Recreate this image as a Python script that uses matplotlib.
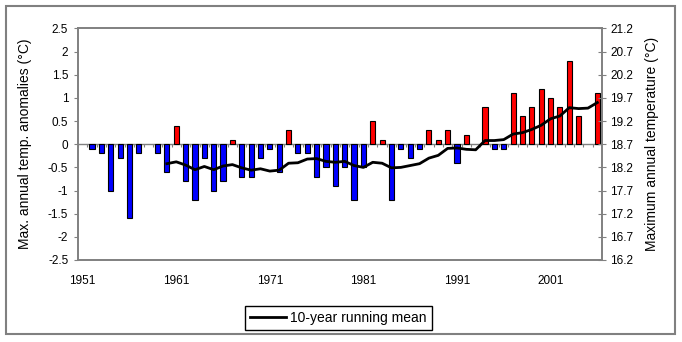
import matplotlib
matplotlib.use('Agg')
import matplotlib.pyplot as plt
import numpy as np
from matplotlib.patches import Rectangle

plt.rcParams['font.family'] = ['Liberation Sans', 'DejaVu Sans']

# annual max temperature anomalies (deg C), 1951-2006
years = list(range(1951, 2007))
anomaly = [0.0, -0.1, -0.2, -1.0, -0.3, -1.6, -0.2, 0.0, -0.2, -0.6,
           0.4, -0.8, -1.2, -0.3, -1.0, -0.8, 0.1, -0.7, -0.7, -0.3,
           -0.1, -0.6, 0.3, -0.2, -0.2, -0.7, -0.5, -0.9, -0.5, -1.2,
           -0.5, 0.5, 0.1, -1.2, -0.1, -0.3, -0.1, 0.3, 0.1, 0.3,
           -0.4, 0.2, 0.0, 0.8, -0.1, -0.1, 1.1, 0.6, 0.8, 1.2,
           1.0, 0.8, 1.8, 0.6, 0.0, 1.1]

# 10-year running mean of the maximum temperature (deg C), 1960-2006
mean_years = list(range(1960, 2007))
running_mean = [18.28, 18.32, 18.25, 18.15, 18.22, 18.15, 18.23, 18.26, 18.19, 18.14,
                18.17, 18.12, 18.14, 18.29, 18.30, 18.38, 18.39, 18.33, 18.31, 18.33,
                18.24, 18.20, 18.31, 18.29, 18.19, 18.20, 18.24, 18.28, 18.40, 18.46,
                18.61, 18.62, 18.59, 18.58, 18.78, 18.78, 18.80, 18.92, 18.95, 19.02,
                19.11, 19.25, 19.31, 19.49, 19.47, 19.48, 19.60]

year_labels = [1951, 1961, 1971, 1981, 1991, 2001]
left_ticks = [-2.5, -2, -1.5, -1, -0.5, 0, 0.5, 1, 1.5, 2, 2.5]
right_ticks = [16.2, 16.7, 17.2, 17.7, 18.2, 18.7, 19.2, 19.7, 20.2, 20.7, 21.2]

grey = '#808080'

fig = plt.figure(figsize=(6.82, 3.42), dpi=100)
ax = fig.add_axes([0.1144, 0.2398, 0.7683, 0.6769])

x = np.arange(len(years))
vals = np.array(anomaly)
keep = vals != 0
colors = np.where(vals > 0, '#FF0000', '#0000FF')
ax.bar(x[keep], vals[keep], width=0.55, color=colors[keep],
       edgecolor='black', linewidth=0.8, zorder=3)

# category axis crossing at zero
ax.axhline(0, color=grey, lw=1, zorder=2)
ax.vlines(np.arange(len(years) + 1) - 0.5, -0.07, 0, color=grey, lw=0.8, zorder=2)

ax.set_xlim(-0.5, len(years) - 0.5)
ax.set_ylim(-2.5, 2.5)
ax.set_xticks([years.index(y) for y in year_labels], [str(y) for y in year_labels])
ax.set_yticks(left_ticks, [f'{v:g}' for v in left_ticks])
ax.tick_params(axis='x', length=0, pad=11, labelsize=8.5)
ax.tick_params(axis='y', direction='out', length=3, color=grey, pad=4, labelsize=8.5)
ax.set_ylabel('Max. annual temp. anomalies (°C)', fontsize=10)
ax.yaxis.set_label_coords(-0.088, 0.5)

ax2 = ax.twinx()
mx = [years.index(y) for y in mean_years]
ax2.plot(mx, running_mean, color='black', lw=2, label='10-year running mean', zorder=4)
ax2.set_ylim(16.2, 21.2)
ax2.set_yticks(right_ticks, [f'{v:.1f}' for v in right_ticks])
ax2.tick_params(axis='y', direction='inout', length=6, color=grey, pad=3, labelsize=8.5)
ax2.set_ylabel('Maximum annual temperature (°C)', fontsize=10)
ax2.yaxis.set_label_coords(1.082, 0.5)

for a in (ax, ax2):
    for s in a.spines.values():
        s.set_color(grey)
        s.set_linewidth(1.2)

fig.legend(loc='center', bbox_to_anchor=(338.5 / 682, 1 - 318 / 342),
           fontsize=10, frameon=True, fancybox=False, edgecolor='black',
           framealpha=1, handlelength=2.6, borderpad=0.35, handletextpad=0.3)

# chart area border
fig.patches.append(Rectangle((6 / 682, 8 / 342), 669 / 682, 328 / 342,
                             transform=fig.transFigure, fill=False,
                             edgecolor=grey, linewidth=1.5))

fig.savefig('out.png', dpi=100)
